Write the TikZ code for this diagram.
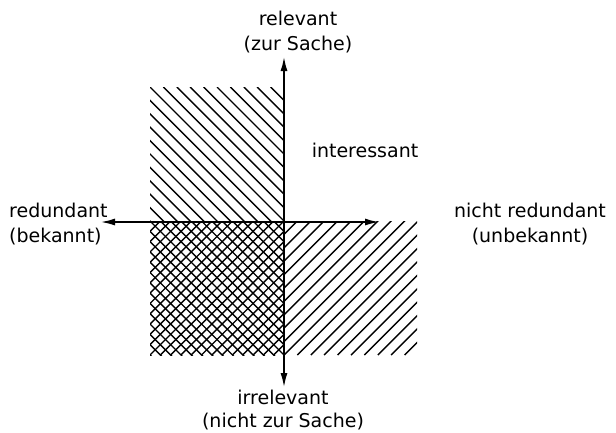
\documentclass[tikz,border=0pt]{standalone}
\usepackage{fontspec}
\setmainfont{DejaVu Sans}
\usetikzlibrary{arrows.meta}
\begin{document}
\begin{tikzpicture}[x=1pt,y=-1pt,
  axis/.style={line width=2.2pt,{Latex[length=15pt,width=7pt]}-{Latex[length=15pt,width=7pt]}},
  hatch/.style={line width=1.4pt},
  lbl/.style={font=\fontsize{19}{25}\selectfont, inner sep=0pt}]
\useasboundingbox (0,0) rectangle (616,432);
\coordinate (O) at (284,221);
\coordinate (T) at (284,56);
\coordinate (B) at (284,388);
\coordinate (L) at (100,222);
\coordinate (R) at (380,222);
% top-left: single hatch
\begin{scope}
  \clip (150,87) rectangle (O);
  \foreach \i in {-12,...,12} \draw[hatch] (150+\i*13.4,87) -- ++(150,150);
\end{scope}
% bottom-left: cross hatch
\begin{scope}
  \clip (150,221) rectangle (284,355);
  \foreach \i in {-16,...,16} {
    \draw[hatch] (150+\i*10.3,221) -- ++(150,150);
    \draw[hatch] (150+\i*10.3,355) -- ++(150,-150);
  }
\end{scope}
% bottom-right: single hatch
\begin{scope}
  \clip (O) rectangle (417,355);
  \foreach \i in {-12,...,12} \draw[hatch] (284+\i*13.4,355) -- ++(150,-150);
\end{scope}
% axes
\draw[axis] (B) -- (T);
\draw[axis] (L) -- (R);
% labels
\node[lbl, align=center] (rel) at (298,32) {relevant\\(zur Sache)};
\node[lbl, align=center, font=\fontsize{19}{23}\selectfont] (irr) at (283,410) {irrelevant\\(nicht zur Sache)};
\node[lbl, align=left, anchor=west] (red) at (9,224) {redundant\\(bekannt)};
\node[lbl, align=center] (nred) at (530,224) {nicht redundant\\(unbekannt)};
\node[lbl] (int) at (365,150) {interessant};
\end{tikzpicture}
\end{document}
